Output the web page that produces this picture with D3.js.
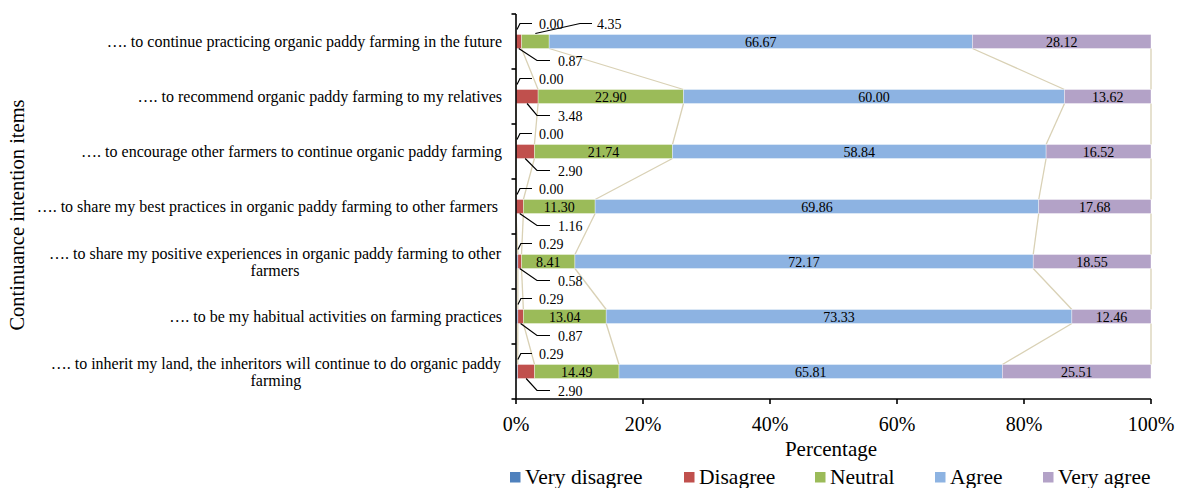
<!DOCTYPE html>
<html>
<head>
<meta charset="utf-8">
<script src="https://cdn.jsdelivr.net/npm/d3@7"></script>
<style>
  html, body { margin: 0; padding: 0; background: #fff; }
  svg { display: block; font-family: "Liberation Serif", "Times New Roman", serif; }
</style>
</head>
<body>
<svg id="chart" width="1178" height="488"></svg>
<script>
// Continuance intention items (top to bottom); "\n" marks a wrapped label
const categories = [
  "…. to continue practicing organic paddy farming in the future",
  "…. to recommend organic paddy farming to my relatives",
  "…. to encourage other farmers to continue organic paddy farming",
  "…. to share my best practices in organic paddy farming to other farmers ",
  "…. to share my positive experiences in organic paddy farming to other\nfarmers",
  "…. to be my habitual activities on farming practices",
  "…. to inherit my land, the inheritors will continue to do organic paddy\nfarming"
];

const seriesNames = ["Very disagree", "Disagree", "Neutral", "Agree", "Very agree"];

const veryDisagree = [0.00, 0.00, 0.00, 0.00, 0.29, 0.29, 0.29];
const disagree     = [0.87, 3.48, 2.90, 1.16, 0.58, 0.87, 2.90];
const neutral      = [4.35, 22.90, 21.74, 11.30, 8.41, 13.04, 14.49];
const agree        = [66.67, 60.00, 58.84, 69.86, 72.17, 73.33, 65.81];
const veryAgree    = [28.12, 13.62, 16.52, 17.68, 18.55, 12.46, 25.51];

const xTicks = [0, 0.2, 0.4, 0.6, 0.8, 1];

const colors = ["#4f81bd", "#c0504d", "#9bbb59", "#8db3e2", "#b3a2c7"];

const seriesValues = [veryDisagree, disagree, neutral, agree, veryAgree];
const rows = categories.map((c, i) => {
  const r = { category: c };
  seriesNames.forEach((s, k) => { r[s] = seriesValues[k][i]; });
  return r;
});

// 100% stacked layout: each bar is normalised to its own total
const stacked = d3.stack().keys(seriesNames).offset(d3.stackOffsetExpand)(rows);

const svg = d3.select("#chart");
const plotL = 516, plotR = 1151, plotT = 14, plotB = 399;

const x = d3.scaleLinear().domain([0, 1]).range([plotL, plotR]);
const y = d3.scaleBand().domain(categories).range([plotT, plotB]).padding(0);
const barH = 14;
const cy = c => y(c) + y.bandwidth() / 2;

// series lines between consecutive bars
const lineG = svg.append("g").attr("fill", "none").attr("stroke", "#d9d1b5").attr("stroke-width", 1.3);
stacked.forEach(layer => {
  for (let i = 0; i < layer.length - 1; i++) {
    const a = layer[i], b = layer[i + 1];
    lineG.append("line")
      .attr("x1", x(a[1])).attr("y1", cy(categories[i]) + barH / 2)
      .attr("x2", x(b[1])).attr("y2", cy(categories[i + 1]) - barH / 2);
  }
});

// bars
const barG = svg.append("g");
stacked.forEach((layer, k) => {
  barG.selectAll(null).data(layer).enter().append("rect")
    .attr("x", d => x(d[0]))
    .attr("y", (d, i) => cy(categories[i]) - barH / 2)
    .attr("width", d => Math.max(0, x(d[1]) - x(d[0])))
    .attr("height", barH)
    .attr("fill", colors[k])
    .attr("stroke", "#ffffff")
    .attr("stroke-opacity", 0.6)
    .attr("stroke-width", 0.6);
});

// axes
const axisG = svg.append("g").attr("stroke", "#000").attr("stroke-width", 1.6);
axisG.append("line").attr("x1", plotL).attr("x2", plotL).attr("y1", plotT).attr("y2", plotB);
d3.range(categories.length + 1).forEach(i => {
  const yy = plotT + i * y.step();
  axisG.append("line").attr("x1", plotL - 4.5).attr("x2", plotL).attr("y1", yy).attr("y2", yy);
});
axisG.append("line").attr("x1", plotL).attr("x2", plotR).attr("y1", plotB).attr("y2", plotB);
xTicks.forEach(t => {
  axisG.append("line").attr("x1", x(t)).attr("x2", x(t)).attr("y1", plotB).attr("y2", plotB + 5);
});

svg.append("g").selectAll("text").data(xTicks).enter().append("text")
  .attr("x", d => x(d)).attr("y", 431)
  .attr("text-anchor", "middle").attr("font-size", 20)
  .text(d3.format(".0%"));

svg.append("text").attr("x", 831).attr("y", 456)
  .attr("text-anchor", "middle").attr("font-size", 21).text("Percentage");

svg.append("text")
  .attr("transform", "translate(24,215) rotate(-90)")
  .attr("text-anchor", "middle").attr("font-size", 20.5)
  .text("Continuance intention items");

// category labels
const catG = svg.append("g").attr("font-size", 16);
categories.forEach(c => {
  const lines = c.split("\n");
  if (lines.length === 1) {
    catG.append("text").attr("x", 502).attr("y", cy(c) + 5)
      .attr("text-anchor", "end").style("white-space", "pre").text(c);
  } else {
    const t1 = catG.append("text").attr("y", cy(c) - 3).attr("text-anchor", "middle").text(lines[0]);
    const w = t1.node().getComputedTextLength();
    const mid = 501 - w / 2;
    t1.attr("x", mid);
    catG.append("text").attr("x", mid).attr("y", cy(c) + 14.5).attr("text-anchor", "middle").text(lines[1]);
  }
});

// data labels
const labG = svg.append("g").attr("font-size", 14);
const leadG = svg.append("g").attr("fill", "none").attr("stroke", "#000").attr("stroke-width", 1.2);
const fmt = d3.format(".2f");
stacked.forEach((layer, k) => {
  layer.forEach((d, i) => {
    const v = seriesValues[k][i];
    const c = categories[i];
    const yc = cy(c);
    const xm = x((d[0] + d[1]) / 2);
    if (k === 0) {
      const ly = yc - 18;
      leadG.append("path").attr("d", `M${xm + 1},${yc - barH / 2 - 5} L${xm + 4},${ly} L${plotL + 16},${ly}`);
      labG.append("text").attr("x", plotL + 23).attr("y", ly + 5).text(fmt(v));
    } else if (k === 1) {
      const ly = yc + 19;
      leadG.append("path").attr("d", `M${xm},${yc + barH / 2} L${plotL + 21},${ly} L${plotL + 34},${ly}`);
      labG.append("text").attr("x", plotL + 42).attr("y", ly + 5).text(fmt(v));
    } else if (k === 2 && v < 5) {
      const ly = yc - 18;
      leadG.append("path").attr("d", `M${xm},${yc - barH / 2 - 1} L${plotL + 64},${ly} L${plotL + 76},${ly}`);
      labG.append("text").attr("x", plotL + 81).attr("y", ly + 5).text(fmt(v));
    } else {
      labG.append("text").attr("x", xm).attr("y", yc + 5)
        .attr("text-anchor", "middle").text(fmt(v));
    }
  });
});

// legend
const legendX = [510, 684, 815, 935, 1043];
const legG = svg.append("g").attr("font-size", 21.5);
seriesNames.forEach((s, k) => {
  legG.append("rect").attr("x", legendX[k]).attr("y", 472).attr("width", 10.5).attr("height", 10.5).attr("fill", colors[k]);
  legG.append("text").attr("x", legendX[k] + 15).attr("y", 484).text(s);
});
</script>
</body>
</html>
